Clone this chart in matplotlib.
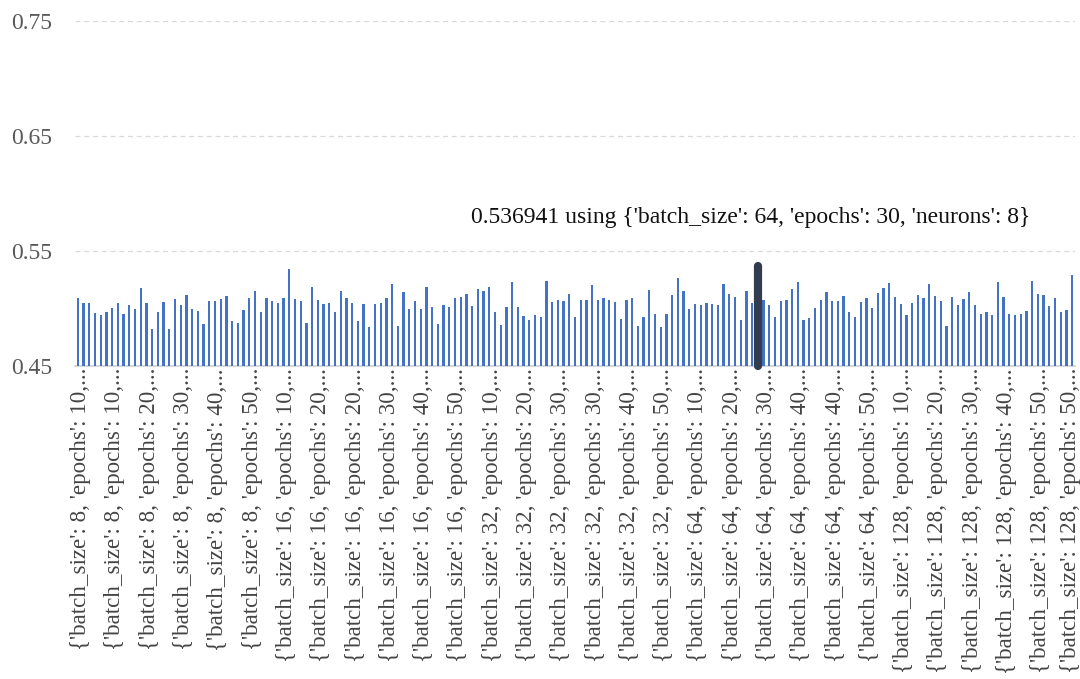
import matplotlib
matplotlib.use("Agg")
import matplotlib.pyplot as plt
import matplotlib.transforms as mtransforms
import numpy as np

batch_sizes = [8, 16, 32, 64, 128]
epochs_list = [10, 20, 30, 40, 50]
neurons_list = [8, 16, 32, 64, 128, 256, 512]

scores = [
    0.5094, 0.5045, 0.5045, 0.4958, 0.4946, 0.4972, 0.5004, 0.5051, 0.4952, 0.5028,
    0.4993, 0.5175, 0.5045, 0.4819, 0.4967, 0.5057, 0.4825, 0.5080, 0.5028, 0.5114,
    0.4993, 0.4978, 0.4865, 0.5068, 0.5062, 0.5080, 0.5109, 0.4891, 0.4877, 0.4984,
    0.5094, 0.5152, 0.4967, 0.5088, 0.5068, 0.5051, 0.5088, 0.5341, 0.5080, 0.5062,
    0.4877, 0.5184, 0.5074, 0.5036, 0.5051, 0.4972, 0.5149, 0.5088, 0.5051, 0.4891,
    0.5036, 0.4836, 0.5036, 0.5045, 0.5088, 0.5210, 0.4845, 0.5146, 0.4999, 0.5068,
    0.4993, 0.5190, 0.5010, 0.4865, 0.5028, 0.5010, 0.5088, 0.5100, 0.5129, 0.5019,
    0.5172, 0.5152, 0.5184, 0.4972, 0.4859, 0.5010, 0.5230, 0.5010, 0.4938, 0.4903,
    0.4941, 0.4923, 0.5236, 0.5057, 0.5071, 0.5065, 0.5129, 0.4923, 0.5077, 0.5071,
    0.5204, 0.5077, 0.5088, 0.5071, 0.5057, 0.4909, 0.5071, 0.5088, 0.4845, 0.4923,
    0.5161, 0.4949, 0.4839, 0.4955, 0.5114, 0.5268, 0.5155, 0.4993, 0.5039, 0.5030,
    0.5051, 0.5039, 0.5030, 0.5213, 0.5123, 0.5100, 0.4897, 0.5155, 0.5051, 0.536941,
    0.5071, 0.5030, 0.4929, 0.5062, 0.5077, 0.5167, 0.5228, 0.4903, 0.4914, 0.5004,
    0.5077, 0.5141, 0.5065, 0.5065, 0.5109, 0.4967, 0.4929, 0.5057, 0.5094, 0.5001,
    0.5135, 0.5178, 0.5219, 0.5097, 0.5039, 0.4943, 0.5051, 0.5114, 0.5088, 0.5213,
    0.5109, 0.5065, 0.4848, 0.5100, 0.5030, 0.5083, 0.5146, 0.5030, 0.4949, 0.4972,
    0.4943, 0.5230, 0.5100, 0.4952, 0.4941, 0.4952, 0.4978, 0.5236, 0.5123, 0.5114,
    0.5025, 0.5088, 0.4967, 0.4984, 0.5288,
]

y_ticks = [0.45, 0.55, 0.65, 0.75]

params = [(b, e, n) for b in batch_sizes for e in epochs_list for n in neurons_list]
full_labels = ["{'batch_size': %d, 'epochs': %d, 'neurons': %d}" % p for p in params]
short_labels = ["{'batch_size': %d, 'epochs': %d,..." % (b, e) for b, e, n in params]

best_idx = int(np.argmax(scores))
best_val = scores[best_idx]

plt.rcParams['font.family'] = ['Liberation Serif', 'DejaVu Serif']

fig = plt.figure(figsize=(10.8, 6.79), dpi=100)
ax = fig.add_axes([75 / 1080, 1 - 366 / 679, 1000 / 1080, 345 / 679])

x = np.arange(len(scores))
bar_colors = ['#4472c4'] * len(scores)
ax.bar(x, [s - y_ticks[0] for s in scores], bottom=y_ticks[0], width=0.38,
       color=bar_colors, zorder=3)
ax.vlines(x[best_idx], y_ticks[0], best_val, colors='#323c4e', linewidth=5.9,
          capstyle='round', zorder=4, clip_on=False)
ann = ax.text(x[best_idx], best_val + 0.042,
              "%.6f using %s" % (best_val, full_labels[best_idx]),
              ha='center', va='center', fontsize=17, color='#111111')
ann.set_transform(ax.transData + mtransforms.ScaledTranslation(-7 / 100, 0, fig.dpi_scale_trans))

ax.set_xlim(-0.5, len(scores) - 0.5)
ax.set_ylim(y_ticks[0], y_ticks[-1])
ax.set_yticks(y_ticks)
ax.set_yticklabels(["%.2f" % v for v in y_ticks])

label_idx = x[::6]
# invisible ticks; labels sit slightly right of their bar, last one kept inside the canvas
label_pos = label_idx + 0.5
label_pos[-1] = label_idx[-1] - 0.25
ax.set_xticks(label_pos)
ax.set_xticklabels([short_labels[i] for i in label_idx], rotation=90)

for v in y_ticks[1:]:
    ax.axhline(v, color='#d9d9d9', linewidth=0.9, linestyle=(0, (4, 3)), zorder=1)

for s in ['top', 'right', 'left']:
    ax.spines[s].set_visible(False)
ax.spines['bottom'].set_color('#d0d0d0')
ax.spines['bottom'].set_linewidth(1.2)

ax.tick_params(axis='y', length=0, pad=16.5, labelsize=17, labelcolor='#5a5a5a')
ax.tick_params(axis='x', length=0, pad=1.5, labelsize=16.6, labelcolor='#444444')

fig.savefig('out.png', dpi=100)
